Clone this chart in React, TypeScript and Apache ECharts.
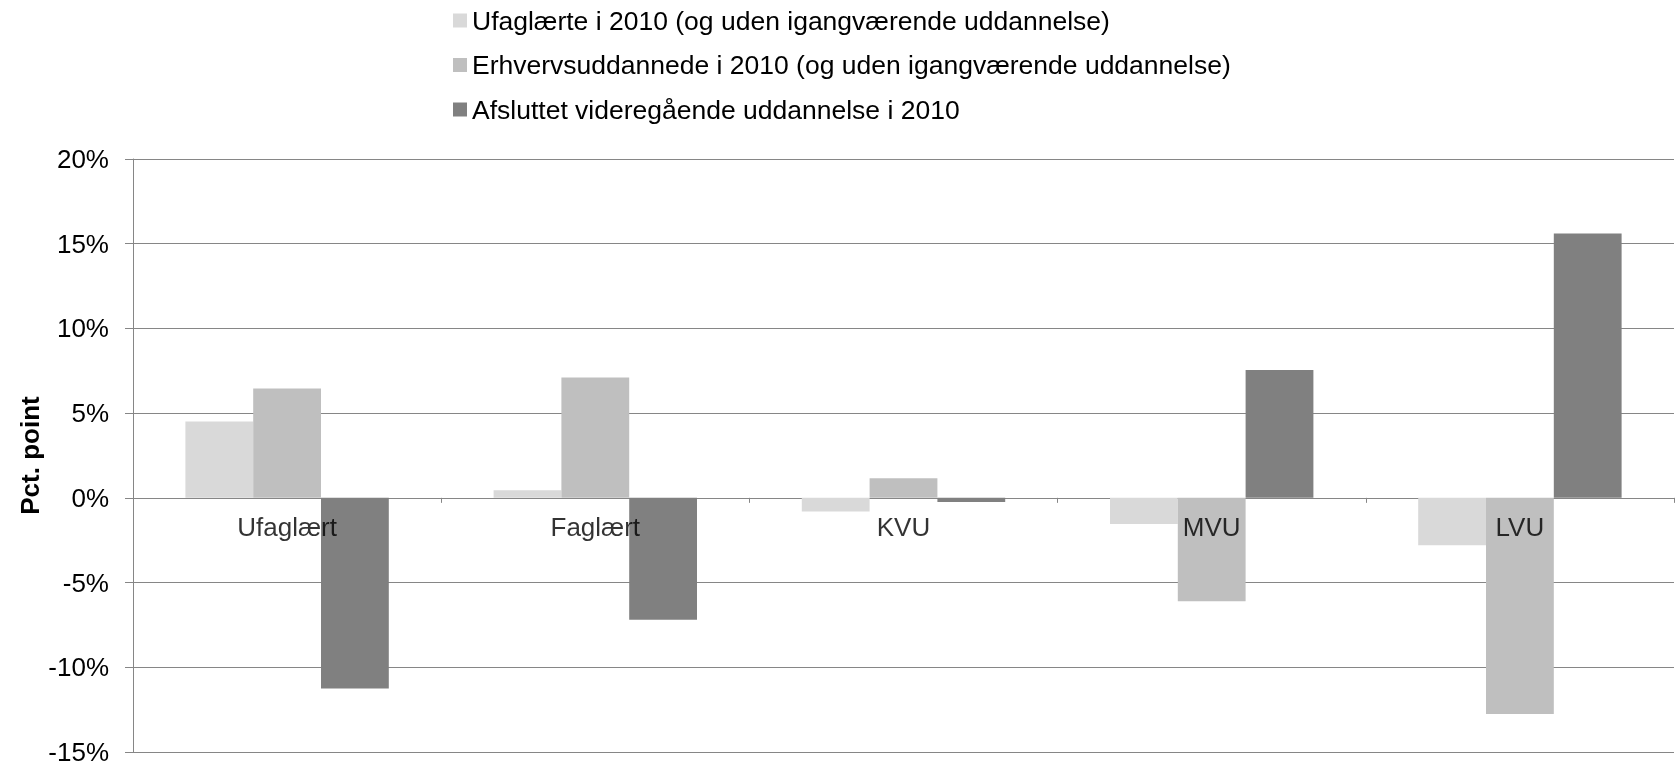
import React, { useEffect, useRef } from "react";
import * as echarts from "echarts";

const categories = ["Ufaglært", "Faglært", "KVU", "MVU", "LVU"];
const seriesNames = [
  "Ufaglærte i 2010 (og uden igangværende uddannelse)",
  "Erhvervsuddannede i 2010 (og uden igangværende uddannelse)",
  "Afsluttet videregående uddannelse i 2010",
];
const ufaglaerte = [4.5, 0.45, -0.8, -1.55, -2.8];
const erhvervsuddannede = [6.45, 7.1, 1.15, -6.1, -12.75];
const videregaaende = [-11.25, -7.2, -0.25, 7.55, 15.6];
const categoryLabelBaseline = [0, 0, 0, 0, 0];
const yTicks = { min: -15, max: 20, interval: 5 };
const colors = ["#d9d9d9", "#bfbfbf", "#808080"];

const FONT = "'Liberation Sans', Arial, sans-serif";

export default function App() {
  const ref = useRef<HTMLDivElement>(null);
  useEffect(() => {
    if (!ref.current) return;
    const chart = echarts.init(ref.current, undefined, { renderer: "svg" });
    const values = [ufaglaerte, erhvervsuddannede, videregaaende];
    chart.setOption({
      animation: false,
      textStyle: { fontFamily: FONT, color: "#000" },
      legend: {
        orient: "vertical",
        left: 453,
        top: 7,
        padding: 0,
        itemWidth: 14,
        itemHeight: 14,
        itemGap: 17.5,
        icon: "rect",
        textStyle: { fontFamily: FONT, fontSize: 26.5, color: "#000" },
        data: seriesNames,
      },
      grid: {
        left: 133,
        right: 5,
        top: 159,
        bottom: 13,
        containLabel: false,
        outerBoundsMode: "none",
      },
      xAxis: {
        type: "category",
        data: categories,
        axisLine: { onZero: true, onZeroAxisIndex: 0, lineStyle: { color: "#868686", width: 1 } },
        axisTick: { show: true, length: 5, interval: 0, lineStyle: { color: "#868686" } },
        axisLabel: { show: false },
        splitLine: { show: false },
      },
      yAxis: {
        type: "value",
        min: yTicks.min,
        max: yTicks.max,
        interval: yTicks.interval,
        name: "Pct. point",
        nameLocation: "middle",
        nameGap: 90,
        nameMoveOverlap: false,
        nameRotate: 90,
        nameTextStyle: { fontFamily: FONT, fontSize: 26, fontWeight: "bold", color: "#000" },
        axisLine: { show: true, onZero: false, lineStyle: { color: "#868686", width: 1 } },
        axisTick: { show: true, length: 8, lineStyle: { color: "#868686" } },
        axisLabel: {
          fontFamily: FONT,
          fontSize: 26,
          color: "#000",
          margin: 24,
          formatter: "{value}%",
        },
        splitLine: { show: true, lineStyle: { color: "#868686", width: 1 } },
      },
      series: [
        ...values.map((v, i) => ({
          name: seriesNames[i],
          type: "bar",
          data: v,
          barGap: "0%",
          barCategoryGap: "34%",
          itemStyle: { color: colors[i] },
        })),
        {
          name: "categoryLabels",
          type: "scatter",
          data: categoryLabelBaseline,
          symbolSize: 0,
          silent: true,
          z: 10,
          label: {
            show: true,
            position: "bottom",
            distance: 16,
            formatter: (p: any) => p.name,
            fontFamily: FONT,
            fontSize: 26,
            color: "#000",
          },
        },
      ],
    });
    return () => chart.dispose();
  }, []);
  return (
    <div
      ref={ref}
      style={{ position: "fixed", left: 0, top: 0, width: 1679, height: 765 }}
    />
  );
}
